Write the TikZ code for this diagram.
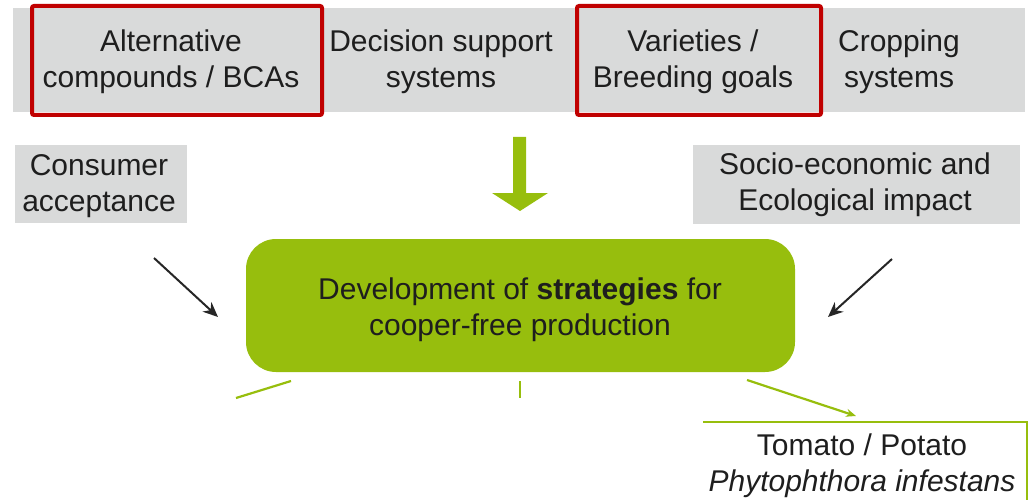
\documentclass[tikz,border=0pt]{standalone}
\usepackage{fontspec}
\setmainfont{Liberation Sans}
\usetikzlibrary{arrows.meta}
\definecolor{leaf}{HTML}{97BE0D}
\definecolor{panel}{HTML}{D9DADA}
\definecolor{frame}{HTML}{C00000}
\definecolor{ink}{HTML}{1E1E1E}
\begin{document}
\begin{tikzpicture}[x=1pt,y=-1pt,
  every node/.style={font=\fontsize{30}{36}\selectfont, text=ink, align=center, inner sep=0pt},
  greybox/.style={fill=panel, draw=none},
  redframe/.style={draw=frame, line width=4pt, rounded corners=2pt},
  corebox/.style={fill=leaf, draw=none, rounded corners=30pt},
  influence/.style={draw=black!85, line width=2pt, -{Stealth[length=15pt,width=13pt]}},
  branch/.style={draw=leaf, line width=2.2pt},
  branchtip/.style={branch, -{Stealth[length=10pt,width=8pt]}},
]
\useasboundingbox (0,0) rectangle (1033,500);

% top band of research areas
\node[greybox, minimum width=1012pt, minimum height=104pt] (band) at (519,60) {};
\node[redframe, minimum width=290pt, minimum height=109pt] (altframe) at (177,60.5) {};
\node[redframe, minimum width=244pt, minimum height=109pt] (varframe) at (699,60.5) {};
\node (alt) at (171,62) {Alternative\\compounds / BCAs};
\node (dss) at (441,62) {Decision support\\systems};
\node (var) at (693,62) {Varieties /\\Breeding goals};
\node (crop) at (899,62) {Cropping\\systems};

% side factors
\node[greybox, minimum width=172pt, minimum height=78pt] (cons) at (101,184) {};
\node (constext) at (99,186.5) {Consumer\\acceptance};
\node[greybox, minimum width=327pt, minimum height=79pt] (socio) at (856.5,184.5) {};
\node (sociotext) at (855,184.5) {Socio-economic and\\Ecological impact};

% central strategy box
\node[corebox, minimum width=549pt, minimum height=133pt] (core) at (520.5,305.5) {};
\node (coretext) at (520,310) {Development of \textbf{strategies} for\\cooper-free production};

% block arrow from the top band
\coordinate (bh) at (520,211);
\fill[leaf] (513,137) -- (526,137) -- (526,193) -- (548,193) -- (bh) -- (492,193) -- (513,193) -- cycle;

% influence arrows
\coordinate (cs) at (154,258);
\coordinate (ce) at (218,317);
\coordinate (ss) at (892,259);
\coordinate (se) at (828,317);
\draw[influence] (cs) -- (ce);
\draw[influence] (ss) -- (se);

% crop / pathogen box
\node (crop2) at (862,466) {Tomato / Potato\\\textit{Phytophthora infestans}};
\coordinate (tl) at (703,422);
\coordinate (tr) at (1027,422);
\coordinate (br) at (1027,500);
\draw[leaf, line width=1.5pt] (tl) -- (tr) -- (br);

% branches leaving the strategy box
\coordinate (l1) at (291,381);
\coordinate (l2) at (236,398);
\coordinate (m1) at (520,381);
\coordinate (m2) at (520,398);
\coordinate (r1) at (747,380);
\coordinate (r2) at (856,416);
\draw[branch] (l1) -- (l2);
\draw[branch] (m1) -- (m2);
\draw[branchtip] (r1) -- (r2);
\end{tikzpicture}
\end{document}
